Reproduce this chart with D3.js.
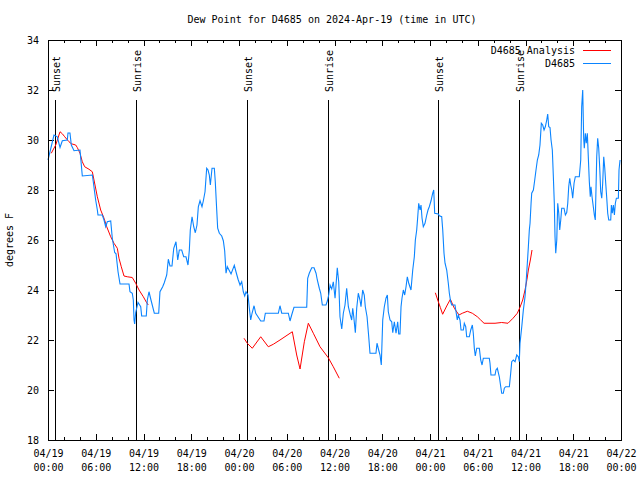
<!DOCTYPE html>
<html><head><meta charset="utf-8">
<script src="https://cdn.jsdelivr.net/npm/d3@7"></script>
<style>
body{margin:0;background:#fff;}
text{font-family:"DejaVu Sans Mono",monospace;font-size:10px;fill:#000;}
</style></head>
<body><svg id="c" width="640" height="480"></svg>
<script>
// hours since 2024-04-19 00:00 UTC, dew point in °F
const obsHours = [0.00,0.38,0.75,1.17,1.51,1.80,2.43,2.51,2.76,2.93,3.27,4.02,4.31,5.57,5.69,5.99,6.20,6.28,6.82,7.04,7.25,7.45,7.88,8.08,8.38,8.55,8.80,9.05,10.18,10.30,10.59,10.72,10.81,10.89,11.02,11.31,11.65,11.77,12.35,12.48,12.69,12.94,13.36,13.91,14.07,14.41,14.61,14.92,15.12,15.33,15.58,15.80,16.08,16.30,16.50,16.80,17.05,17.34,17.59,17.76,17.88,18.10,18.31,18.51,18.72,18.89,19.10,19.35,19.52,19.73,19.94,20.11,20.27,20.40,20.61,20.90,21.02,21.20,21.32,21.53,21.83,22.03,22.20,22.37,22.53,23.00,23.41,23.62,23.88,24.13,24.34,24.54,24.72,24.88,25.13,25.30,25.47,25.64,25.89,26.10,26.30,26.73,27.14,27.31,28.94,29.15,29.37,30.20,30.41,30.62,30.91,32.51,32.63,32.83,33.14,33.43,33.68,33.84,34.09,34.27,34.47,34.93,35.10,35.27,35.44,35.65,35.85,36.07,36.35,36.53,36.69,36.91,37.11,37.32,37.53,37.74,37.99,38.16,38.29,38.42,38.62,38.79,38.99,39.20,39.33,39.54,39.74,39.87,40.09,40.30,40.46,41.21,41.34,41.55,41.72,41.88,42.06,42.26,42.47,42.64,42.76,42.98,43.19,43.32,43.52,43.73,43.94,44.07,44.23,44.36,44.48,44.65,44.82,44.99,45.15,45.33,45.61,45.83,46.03,46.16,46.33,46.46,46.58,46.75,46.87,47.00,47.16,47.37,47.59,47.75,47.91,48.13,48.34,48.47,48.59,49.05,49.17,49.47,49.60,49.76,49.89,50.10,50.30,50.43,50.60,50.73,51.14,51.27,51.43,51.56,51.77,51.90,52.19,52.31,52.49,52.61,52.94,53.12,53.32,53.44,53.57,53.69,53.87,54.20,54.37,54.54,54.70,55.45,55.54,55.66,56.17,56.29,56.46,56.71,56.89,57.01,57.21,57.34,57.51,57.97,58.14,58.27,58.47,58.69,58.90,59.10,59.22,59.31,59.53,59.73,59.94,60.07,60.23,60.36,60.48,60.57,60.70,60.78,60.99,61.16,61.32,61.49,61.66,61.82,61.99,62.16,62.33,62.49,62.67,62.79,62.92,63.08,63.21,63.37,63.50,63.62,63.71,63.80,63.93,64.05,64.18,64.30,64.43,64.55,64.84,65.01,65.18,65.31,65.43,65.56,65.68,65.81,65.93,66.10,66.26,66.76,66.94,67.06,67.19,67.31,67.39,67.52,67.64,67.77,67.89,68.02,68.14,68.23,68.36,68.52,68.65,68.77,68.95,69.07,69.20,69.33,69.45,69.58,69.70,69.83,69.96,70.08,70.21,70.33,70.46,70.71,70.79,70.91,71.04,71.17,71.29,71.42,71.67,71.75,71.88];
const obsValues = [29.2,29.7,30.2,30.13,29.7,29.97,30.0,30.28,30.28,29.8,29.57,29.6,28.56,28.6,28.33,27.6,27.2,27.0,27.0,26.8,26.53,26.73,26.76,26.07,25.5,25.45,24.73,24.24,24.24,23.93,23.87,23.6,22.8,22.64,23.1,23.5,23.33,22.96,22.96,23.6,23.93,23.6,23.07,23.07,23.93,24.13,24.29,24.6,25.23,24.96,24.96,25.67,25.93,25.2,25.6,25.6,25.33,25.33,25.0,25.6,26.4,26.93,26.53,26.29,26.6,27.33,27.57,27.33,27.57,27.93,28.87,28.8,28.6,28.2,28.87,28.87,28.33,27.2,26.47,26.27,26.16,25.97,25.57,24.67,24.93,24.64,24.99,24.73,24.43,24.2,24.33,23.93,23.76,23.93,23.8,23.27,22.8,23.07,23.37,23.07,22.97,22.76,22.76,23.07,23.07,23.37,23.07,23.07,22.76,23.0,23.31,23.31,24.47,24.67,24.89,24.89,24.67,24.4,24.07,23.87,23.4,23.4,23.56,23.8,24.2,24.04,24.33,23.67,24.89,24.33,22.93,22.44,23.07,23.4,24.07,23.33,23.0,22.8,23.27,22.93,22.29,23.27,23.87,23.6,23.33,24.0,23.8,23.33,22.93,22.13,21.47,21.47,21.87,21.6,21.4,21.0,22.8,23.33,23.67,23.8,23.13,22.8,22.73,22.29,22.73,22.27,22.73,22.24,22.24,23.33,23.67,24.0,23.8,24.13,24.53,24.27,24.0,24.8,25.33,26.0,26.4,26.93,27.47,27.2,27.4,26.87,26.53,26.67,27.0,27.2,27.33,27.57,27.87,28.0,27.07,27.04,26.97,26.93,26.4,25.47,25.07,24.8,24.27,23.87,23.53,23.4,23.4,23.13,22.8,23.0,22.8,22.4,22.4,22.67,22.53,22.13,22.13,22.4,22.6,22.27,21.67,21.36,21.67,21.67,21.2,21.0,21.27,21.27,21.07,20.6,20.6,20.8,20.87,20.53,20.13,19.87,19.87,20.07,20.13,20.13,20.67,21.13,21.2,21.13,21.4,21.33,21.13,21.87,22.53,23.2,23.73,24.27,25.07,25.73,26.4,26.67,27.47,27.87,28.0,28.4,28.8,29.2,29.4,29.8,30.67,30.6,30.4,30.53,30.8,31.04,30.53,30.5,30.0,29.6,28.53,27.47,26.13,25.47,26.0,27.47,27.07,26.4,26.8,27.27,27.27,27.0,27.1,27.47,28.13,28.47,28.2,28.0,27.67,28.27,28.53,28.53,29.2,31.33,32.0,30.07,29.67,30.27,29.87,30.27,29.33,28.33,27.73,28.13,27.73,27.33,27.0,26.8,29.33,30.07,29.67,28.87,27.93,27.67,28.27,29.33,28.87,28.27,27.67,27.07,26.8,26.8,27.4,27.07,27.4,27.0,27.47,27.67,27.67,28.8,29.2];

// analysis runs (three separate segments)
const anaHours1 = [0.41,0.97,1.51,1.80,2.10,2.64,2.93,3.48,3.68,4.02,4.31,4.61,5.15,5.57,5.78,6.20,6.62,7.04,7.38,7.88,8.29,8.71,8.92,9.21,9.55,9.96,10.59,11.02,11.44,11.98,12.40,12.60];
const anaValues1 = [29.47,29.8,30.33,30.25,30.13,29.93,29.85,29.8,29.7,29.47,29.13,28.93,28.83,28.73,28.4,27.73,27.2,26.87,26.53,26.13,25.87,25.67,25.27,24.93,24.56,24.53,24.5,24.27,24.0,23.73,23.49,23.4];
const anaHours2 = [24.63,25.04,25.67,26.73,27.68,28.31,29.15,30.70,31.25,31.67,32.21,32.71,33.34,34.18,35.22,35.85,36.60];
const anaValues2 = [22.07,21.87,21.67,22.13,21.73,21.83,22.0,22.33,21.4,20.84,21.93,22.67,22.27,21.73,21.29,20.93,20.47];
const anaHours3 = [48.67,48.97,49.30,49.59,50.10,50.56,51.06,51.64,52.06,52.69,53.32,53.95,54.37,54.79,56.17,57.0,57.80,58.43,58.97,59.31,59.65,59.94,60.19,60.36,60.61,60.82];
const anaValues3 = [23.89,23.6,23.3,23.03,23.36,23.63,23.27,23.0,23.07,23.15,23.07,22.93,22.8,22.67,22.67,22.7,22.67,22.87,23.07,23.31,23.6,24.0,24.43,24.8,25.2,25.6];

const sunsetHours = [0.92,24.97,49.05];
const sunriseHours = [11.1,35.2,59.22];

const xTickHours = [0,6,12,18,24,30,36,42,48,54,60,66,72];
const xTickDates = ["04/19","04/19","04/19","04/19","04/20","04/20","04/20","04/20","04/21","04/21","04/21","04/21","04/22"];
const xTickTimes = ["00:00","06:00","12:00","18:00","00:00","06:00","12:00","18:00","00:00","06:00","12:00","18:00","00:00"];
const yTicks = [18,20,22,24,26,28,30,32,34];

const L=48,R=621,T=40,B=440;
const svg=d3.select("#c");
const x=d3.scaleLinear().domain([0,72]).range([L,R]);
const y=d3.scaleLinear().domain([18,34]).range([B,T]);

// minor ticks (bottom/top)
const minor=d3.range(0,73,2).filter(h=>h%6!==0);
svg.append("g").attr("transform",`translate(0,${B})`).call(d3.axisBottom(x).tickValues(minor).tickSize(-3).tickFormat(""));
svg.append("g").attr("transform",`translate(0,${T})`).call(d3.axisTop(x).tickValues(minor).tickSize(-3).tickFormat(""));
// major
const gx=svg.append("g").attr("transform",`translate(0,${B})`).call(d3.axisBottom(x).tickValues(xTickHours).tickSize(-6).tickFormat(()=>""));
gx.selectAll(".tick text").each(function(d,i){
  const t=d3.select(this).attr("y",null).attr("dy",null);
  t.append("tspan").attr("x",0).attr("y",17).text(xTickDates[i]);
  t.append("tspan").attr("x",0).attr("y",31).text(xTickTimes[i]);
});
svg.append("g").attr("transform",`translate(0,${T})`).call(d3.axisTop(x).tickValues(xTickHours).tickSize(-6).tickFormat(""));
svg.append("g").attr("transform",`translate(${L},0)`).call(d3.axisLeft(y).tickValues(yTicks).tickSize(-6).tickPadding(9).tickFormat(d3.format("d")));
svg.append("g").attr("transform",`translate(${R},0)`).call(d3.axisRight(y).tickValues(yTicks).tickSize(-6).tickFormat(""));
svg.selectAll(".domain").remove();
svg.selectAll(".tick line").attr("stroke","#000").attr("shape-rendering","crispEdges");
svg.selectAll(".tick text").attr("font-family","DejaVu Sans Mono").attr("font-size","10px").attr("fill","#000");

// sun lines
const sun=[...sunsetHours.map(h=>({h,l:"Sunset"})),...sunriseHours.map(h=>({h,l:"Sunrise"}))];
sun.forEach(s=>{
  const px=Math.round(x(s.h));
  svg.append("line").attr("x1",px+0.5).attr("x2",px+0.5).attr("y1",100).attr("y2",B)
    .attr("stroke","#000").attr("stroke-width",1).attr("shape-rendering","crispEdges");
  svg.append("text").attr("transform",`translate(${px+5},92) rotate(-90)`).attr("text-anchor","start").text(s.l);
});

// data lines
const mk=(hs,vs)=>hs.map((h,i)=>[h,vs[i]]);
const line=d3.line().x(d=>x(d[0])).y(d=>y(d[1]));
[[anaHours1,anaValues1],[anaHours2,anaValues2],[anaHours3,anaValues3]].forEach(([h,v])=>{
  svg.append("path").attr("d",line(mk(h,v))).attr("fill","none").attr("stroke","#ff0000").attr("stroke-width",1);
});
svg.append("path").attr("d",line(mk(obsHours,obsValues))).attr("fill","none").attr("stroke","#0a84ff").attr("stroke-width",1.1);

// border
svg.append("rect").attr("x",L+0.5).attr("y",T+0.5).attr("width",R-L).attr("height",B-T).attr("fill","none").attr("stroke","#000").attr("shape-rendering","crispEdges");

// title, axis label
svg.append("text").attr("x",332).attr("y",23).attr("text-anchor","middle").text("Dew Point for D4685 on 2024-Apr-19 (time in UTC)");
svg.append("text").attr("transform","translate(13,240) rotate(-90)").attr("text-anchor","middle").text("degrees F");

// legend
const leg=[{l:"D4685 Analysis",c:"#ff0000"},{l:"D4685",c:"#0a84ff"}];
leg.forEach((e,i)=>{
  const yy=50+i*13;
  svg.append("text").attr("x",575).attr("y",yy+4).attr("text-anchor","end").text(e.l);
  svg.append("line").attr("x1",583).attr("x2",611).attr("y1",yy+0.5).attr("y2",yy+0.5).attr("stroke",e.c).attr("shape-rendering","crispEdges");
});
</script></body></html>
